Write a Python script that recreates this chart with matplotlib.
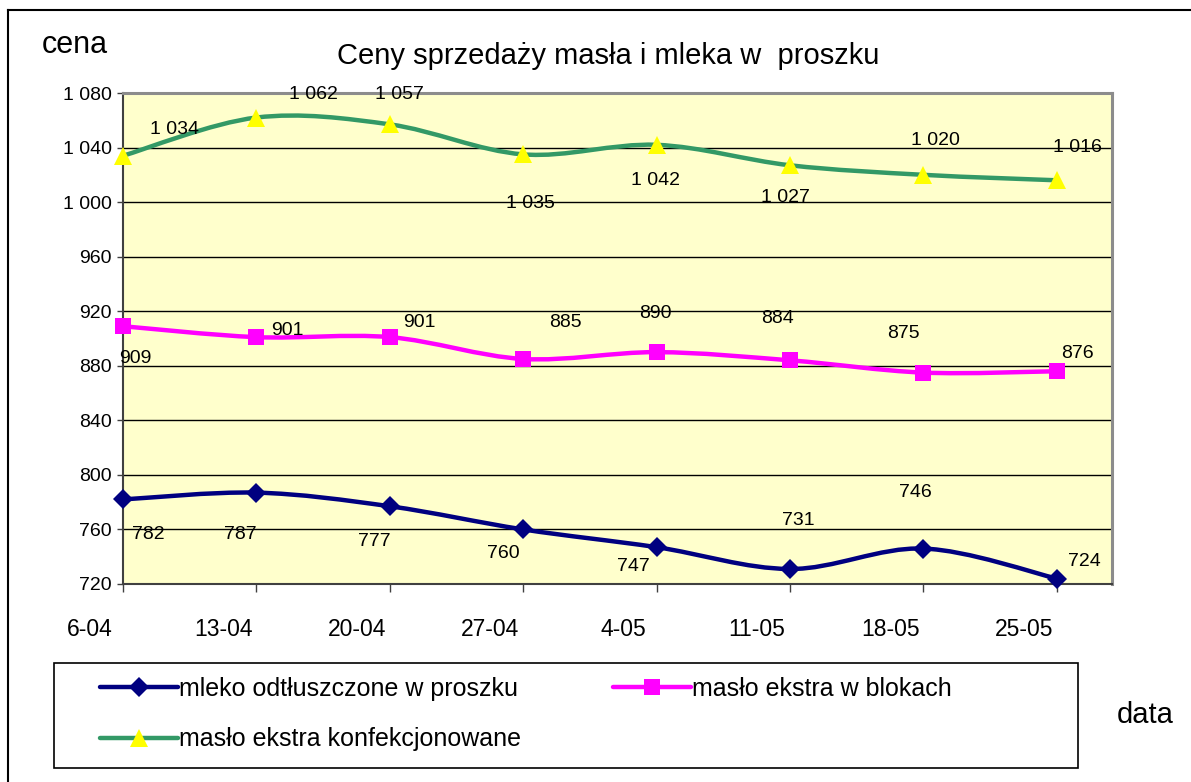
import matplotlib
matplotlib.use("Agg")
import matplotlib.pyplot as plt
from matplotlib.path import Path
from matplotlib.patches import PathPatch, Rectangle
from matplotlib.lines import Line2D

plt.rcParams['font.family'] = ['Liberation Sans', 'DejaVu Sans']

# data
dates = ['6-04', '13-04', '20-04', '27-04', '4-05', '11-05', '18-05', '25-05']
mleko = [782, 787, 777, 760, 747, 731, 746, 724]
maslo_bloki = [909, 901, 901, 885, 890, 884, 875, 876]
maslo_konf = [1034, 1062, 1057, 1035, 1042, 1027, 1020, 1016]

# label offsets (pixels) of the data labels, as placed in the original
off_mleko = [(25, -35), (-16, -42), (-15, -35), (-20, -24), (-23, -19), (8, 48), (-8, 56), (28, 17)]
off_bloki = [(12, -32), (31, 7), (30, 15), (42, 36), (-1, 39), (-13, 42), (-20, 39), (21, 18)]
off_konf = [(52, 26), (57, 23), (10, 30), (7, -49), (-1, -36), (-5, -32), (12, 34), (21, 33)]

W, H = 1191, 782
fig = plt.figure(figsize=(W / 100, H / 100), dpi=100)
ax = fig.add_axes([123 / W, 1 - 584 / H, (1112 - 123) / W, (584 - 93) / H])
ax.set_facecolor('#FFFFCC')

x = list(range(len(dates)))
step_px = 133.4


def fmt(v):
    return '{:,}'.format(v).replace(',', ' ')


def smooth_path(xs, ys):
    # Excel-like smoothed line: Catmull-Rom segments as cubic Bezier curves
    n = len(xs)
    verts = [(xs[0], ys[0])]
    codes = [Path.MOVETO]
    for i in range(n - 1):
        i0 = max(i - 1, 0)
        i3 = min(i + 2, n - 1)
        c1 = (xs[i] + (xs[i + 1] - xs[i0]) / 6.0, ys[i] + (ys[i + 1] - ys[i0]) / 6.0)
        c2 = (xs[i + 1] - (xs[i3] - xs[i]) / 6.0, ys[i + 1] - (ys[i3] - ys[i]) / 6.0)
        verts += [c1, c2, (xs[i + 1], ys[i + 1])]
        codes += [Path.CURVE4] * 3
    return Path(verts, codes)


series = [
    (mleko, '#000080', 'D', 10.5, '#000080', off_mleko, 'mleko odtłuszczone w proszku'),
    (maslo_bloki, '#FF00FF', 's', 11, '#FF00FF', off_bloki, 'masło ekstra w blokach'),
    (maslo_konf, '#339966', '^', 13.5, '#FFFF00', off_konf, 'masło ekstra konfekcjonowane'),
]

handles = {}
for vals, col, mk, ms, mcol, offs, name in series:
    ax.add_patch(PathPatch(smooth_path(x, vals), facecolor='none', edgecolor=col,
                           lw=3.2, capstyle='round', joinstyle='round', zorder=3))
    ax.plot(x, vals, linestyle='none', marker=mk, markersize=ms, color=mcol,
            markeredgewidth=0, zorder=4, clip_on=False)
    for xi, v, (dx, dy) in zip(x, vals, offs):
        ax.annotate(fmt(v), (xi, v), xytext=(dx, dy), textcoords='offset pixels',
                    ha='center', va='center', fontsize=14, zorder=5, annotation_clip=False)
    handles[name] = Line2D([], [], color=col, lw=3.2, solid_capstyle='round', marker=mk,
                           markersize=ms, markerfacecolor=mcol, markeredgewidth=0)

# axes styling
ax.set_yticks(range(720, 1081, 40))
ax.set_yticklabels([fmt(v) for v in range(720, 1081, 40)], fontsize=14)
ax.yaxis.grid(True, color='black', lw=1.0)
ax.set_axisbelow(True)
# tick marks at the points, labels shifted left like in the original
ax.set_xticks(x)
ax.set_xticklabels([''] * len(x))
for xi, d in zip(x, dates):
    ax.annotate(d, (xi, 0), xycoords=('data', 'axes fraction'), xytext=(-33, -46),
                textcoords='offset pixels', ha='center', va='center', fontsize=16.5,
                annotation_clip=False)
ax.set_xlim(0, (1112 - 123) / step_px)
ax.set_ylim(720, 1080)
ax.tick_params(axis='x', which='major', length=6, width=1, color='#404040')
ax.tick_params(axis='y', length=4.5, width=1, color='#404040', pad=3.5)
for side in ['left', 'bottom']:
    ax.spines[side].set_color('#404040')
    ax.spines[side].set_linewidth(1.5)
for side in ['top', 'right']:
    ax.spines[side].set_color('#8C8C8C')
    ax.spines[side].set_linewidth(2.2)

# texts
fig.text(608 / W, 1 - 56 / H, 'Ceny sprzedaży masła i mleka w  proszku', ha='center', va='center', fontsize=21)
fig.text(75 / W, 1 - 45 / H, 'cena', ha='center', va='center', fontsize=22)
fig.text(1145 / W, 1 - 715 / H, 'data', ha='center', va='center', fontsize=21)

# legend with its own frame
fig.patches.append(Rectangle((54 / W, 1 - 768 / H), (1078 - 54) / W, (768 - 663) / H,
                             transform=fig.transFigure, facecolor='white', edgecolor='black',
                             lw=1.2, zorder=1))
order = ['mleko odtłuszczone w proszku', 'masło ekstra konfekcjonowane', 'masło ekstra w blokach']
leg = fig.legend([handles[k] for k in order], order, ncol=2, loc='upper left',
                 bbox_to_anchor=(100 / W, 1 - 677 / H), frameon=False, fontsize=18,
                 handlelength=3.1, handletextpad=0.05, columnspacing=3.7, labelspacing=1.05,
                 borderpad=0, borderaxespad=0)
leg.set_zorder(2)

# outer chart border (left and top edge)
fig.add_artist(Line2D([8 / W, 8 / W], [0, 1 - 10 / H], transform=fig.transFigure, color='black', lw=1.5))
fig.add_artist(Line2D([8 / W, 1], [1 - 10 / H, 1 - 10 / H], transform=fig.transFigure, color='black', lw=1.5))

fig.savefig('out.png', dpi=100)
